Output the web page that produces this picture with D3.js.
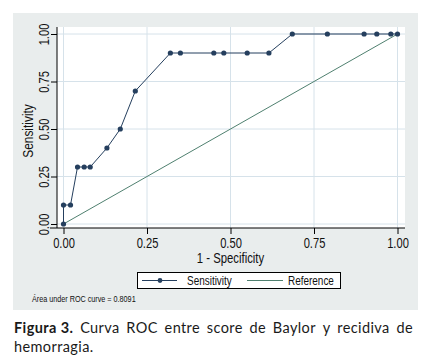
<!DOCTYPE html>
<html>
<head>
<meta charset="utf-8">
<script src="https://cdn.jsdelivr.net/npm/d3@7"></script>
<style>
  body { margin: 0; background: #fff; }
</style>
</head>
<body>
<div id="chart"></div>
<script>
// ROC points
const specComp = [0, 0, 0.021, 0.042, 0.062, 0.08, 0.13, 0.17, 0.215, 0.32, 0.35, 0.45, 0.48, 0.55, 0.615, 0.685, 0.79, 0.9, 0.938, 0.98, 1.0];
const sensitivity = [0, 0.1, 0.1, 0.3, 0.3, 0.3, 0.4, 0.5, 0.7, 0.9, 0.9, 0.9, 0.9, 0.9, 0.9, 1, 1, 1, 1, 1, 1];
const tickValues = [0, 0.25, 0.5, 0.75, 1];
const aucText = "Área under ROC curve = 0.8091";
const captionBold = "Figura 3.";
const captionLine1 = ["Curva", "ROC", "entre", "score", "de", "Baylor", "y", "recidiva", "de"];
const captionLine2 = "hemorragia.";

const width = 434, height = 364;
const font = '"Liberation Sans", Arial, sans-serif';
const capFont = '"Lato", "Open Sans", sans-serif';
const rocColor = "#253f5e", refColor = "#4f806f";

const svg = d3.select("#chart").append("svg")
    .attr("width", width)
    .attr("height", height)
    .style("display", "block");

// condensed text (Stata uses a narrow Arial)
function narrowText(g, txt, tx, ty, size, sx, rot) {
    return g.append("text")
        .attr("transform", `translate(${tx},${ty})` + (rot ? ` rotate(${rot})` : "") + ` scale(${sx},1)`)
        .attr("font-family", font).attr("font-size", size).attr("fill", "#111")
        .text(txt);
}

// outer grey panel
svg.append("rect")
    .attr("x", 13).attr("y", 13)
    .attr("width", 405).attr("height", 297)
    .attr("fill", "#e9eded");

// plot region
const plot = { left: 57, right: 405, top: 27, bottom: 228 };
svg.append("rect")
    .attr("x", plot.left).attr("y", plot.top)
    .attr("width", plot.right - plot.left).attr("height", plot.bottom - plot.top)
    .attr("fill", "#fff");

const x = d3.scaleLinear().domain([0, 1]).range([63.5, 397.5]);
const y = d3.scaleLinear().domain([0, 1]).range([224, 34]);

// grid lines
svg.selectAll(".hgrid")
    .data(tickValues)
    .enter().append("line")
    .attr("x1", plot.left).attr("x2", plot.right)
    .attr("y1", d => y(d)).attr("y2", d => y(d))
    .attr("stroke", "#d6e2ea").attr("stroke-width", 1);

svg.selectAll(".vgrid")
    .data(tickValues)
    .enter().append("line")
    .attr("y1", plot.top).attr("y2", plot.bottom)
    .attr("x1", d => x(d)).attr("x2", d => x(d))
    .attr("stroke", "#d6e2ea").attr("stroke-width", 1);

// axes
const xAxis = d3.axisBottom(x).tickValues(tickValues).tickFormat(d3.format(".2f")).tickSize(6).tickSizeOuter(0);
const gx = svg.append("g")
    .attr("transform", `translate(0,${plot.bottom})`)
    .call(xAxis);
gx.select(".domain").attr("d", `M50,0H${plot.right}`).attr("stroke", "#000");
gx.selectAll(".tick line").attr("stroke", "#000");
gx.selectAll(".tick text")
    .attr("font-family", font).attr("font-size", 14.5).attr("fill", "#111")
    .attr("y", 0).attr("dy", 0)
    .attr("transform", "translate(0,20) scale(0.77,1)");

const yAxis = d3.axisLeft(y).tickValues(tickValues).tickFormat(d3.format(".2f")).tickSize(6).tickSizeOuter(0);
const gy = svg.append("g")
    .attr("transform", `translate(${plot.left},0)`)
    .call(yAxis);
gy.select(".domain").attr("d", `M0,${plot.top}V${plot.bottom}`).attr("stroke", "#000");
gy.selectAll(".tick line").attr("stroke", "#000");
gy.selectAll(".tick text")
    .attr("font-family", font).attr("font-size", 14.5).attr("fill", "#111")
    .attr("x", 0).attr("dy", 0)
    .attr("text-anchor", "middle")
    .attr("transform", "translate(-8,0) rotate(-90) scale(0.77,1)");

// axis titles
narrowText(svg, "1 - Specificity", (x(0) + x(1)) / 2, 263, 14, 0.81).attr("text-anchor", "middle");
narrowText(svg, "Sensitivity", 33, 131, 14, 0.85, -90).attr("text-anchor", "middle");

// reference line
svg.append("line")
    .attr("x1", x(0)).attr("y1", y(0))
    .attr("x2", x(1)).attr("y2", y(1))
    .attr("stroke", refColor).attr("stroke-width", 1);

// ROC curve
const rocData = specComp.map((d, i) => ({ x: d, y: sensitivity[i] }));
const line = d3.line().x(d => x(d.x)).y(d => y(d.y));
svg.append("path")
    .datum(rocData)
    .attr("d", line)
    .attr("fill", "none")
    .attr("stroke", rocColor).attr("stroke-width", 1);

svg.selectAll(".pt")
    .data(rocData)
    .enter().append("circle")
    .attr("cx", d => x(d.x)).attr("cy", d => y(d.y))
    .attr("r", 2.6)
    .attr("fill", rocColor);

// legend
const legend = svg.append("g");
legend.append("rect")
    .attr("x", 137.5).attr("y", 272.5)
    .attr("width", 203).attr("height", 16)
    .attr("fill", "#fff").attr("stroke", "#000");
legend.append("line")
    .attr("x1", 142).attr("x2", 177).attr("y1", 280.5).attr("y2", 280.5)
    .attr("stroke", rocColor);
legend.append("circle")
    .attr("cx", 160).attr("cy", 280.5).attr("r", 2.4).attr("fill", rocColor);
narrowText(legend, "Sensitivity", 187, 284.5, 12, 0.83);
legend.append("line")
    .attr("x1", 247).attr("x2", 283).attr("y1", 280.5).attr("y2", 280.5)
    .attr("stroke", refColor);
narrowText(legend, "Reference", 288, 284.5, 12, 0.83);

// note
narrowText(svg, aucText, 32, 302, 8.5, 0.85);

// caption, first line justified word by word
const cap = svg.append("g")
    .attr("font-family", capFont).attr("font-size", 14.5)
    .attr("fill", "#1a1a1a").attr("letter-spacing", 0.4);
const capLeft = 14, capRight = 413;
const words = [captionBold].concat(captionLine1);
const nodes = words.map((w, i) => cap.append("text")
    .attr("y", 333)
    .attr("font-weight", i === 0 ? "bold" : "normal")
    .text(w));
const widths = nodes.map(n => n.node().getComputedTextLength());
const gap = (capRight - capLeft - d3.sum(widths)) / (words.length - 1);
let cx = capLeft;
nodes.forEach((n, i) => { n.attr("x", cx); cx += widths[i] + gap; });
cap.append("text")
    .attr("x", capLeft).attr("y", 352)
    .text(captionLine2);
</script>
</body>
</html>
